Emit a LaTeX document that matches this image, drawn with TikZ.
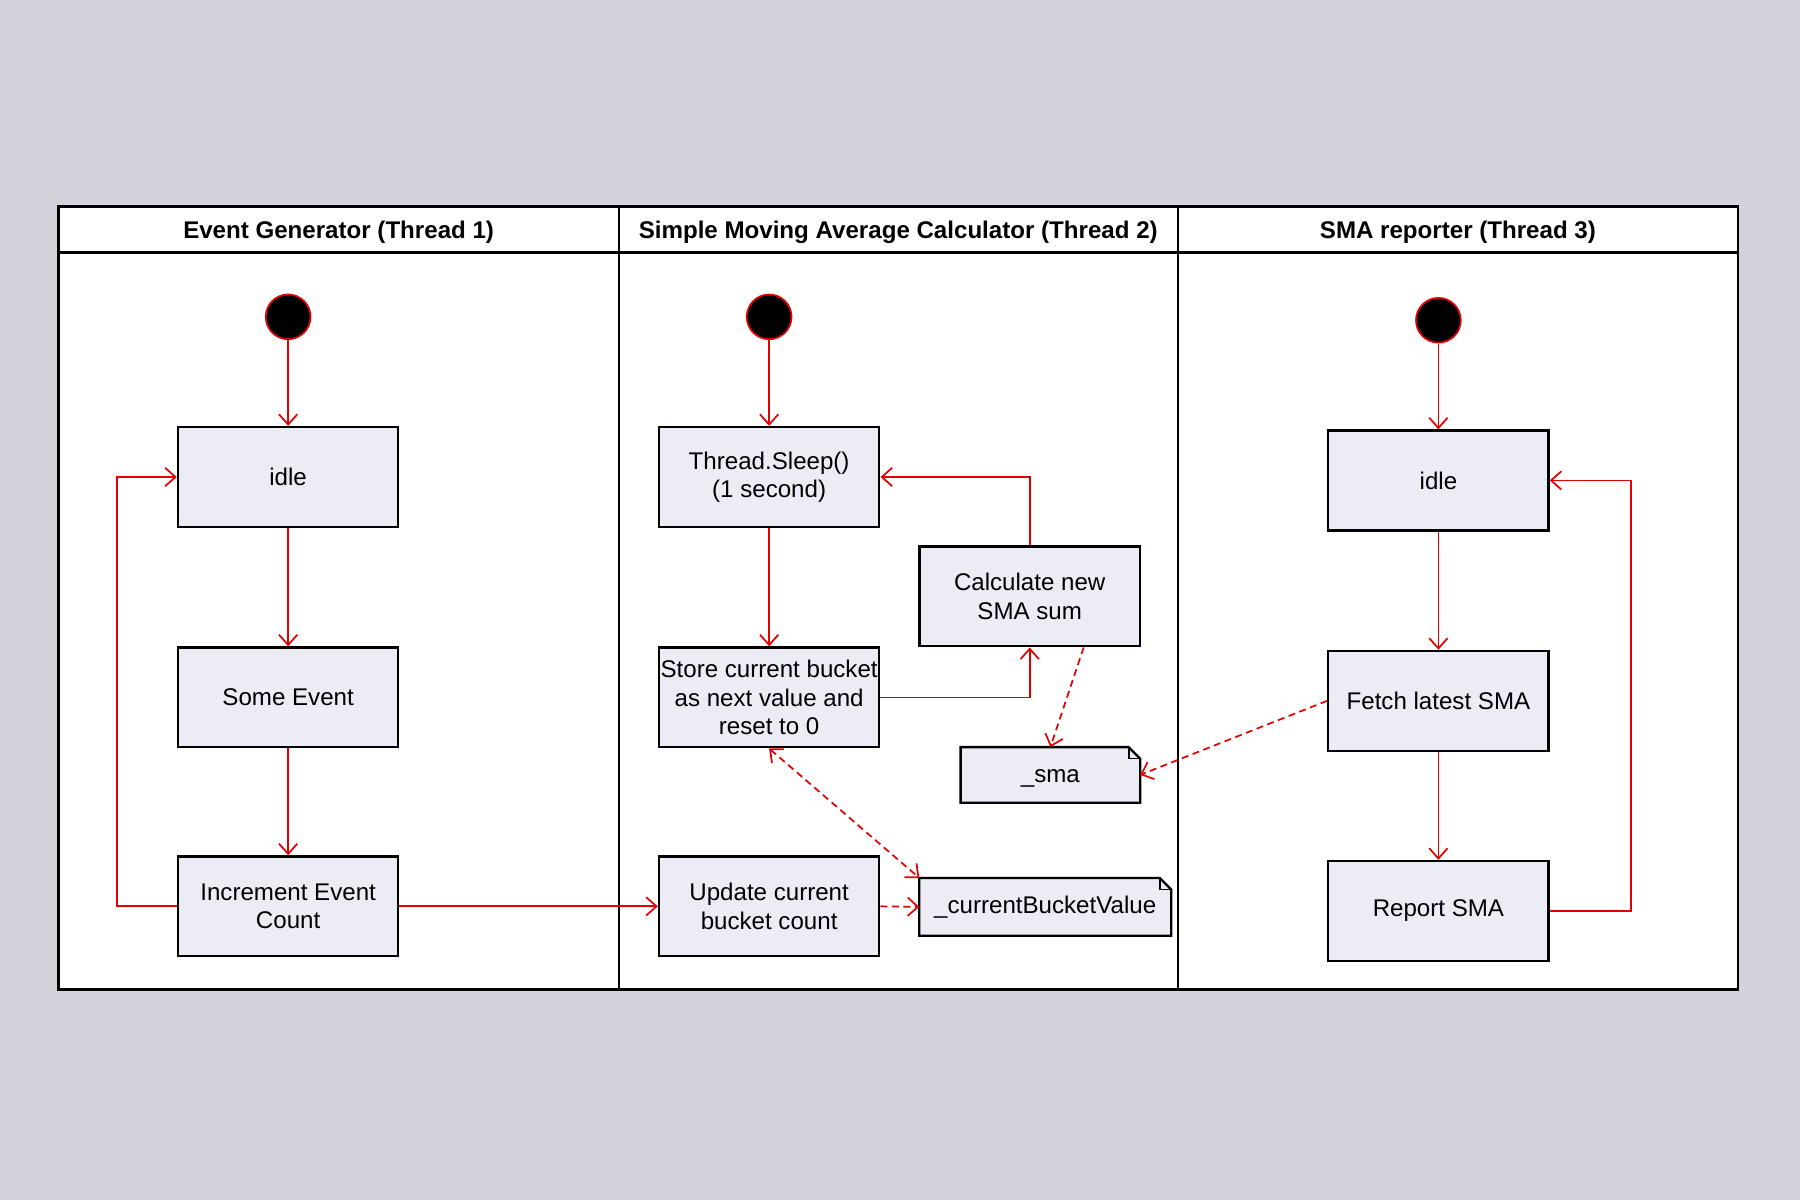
\documentclass[tikz,border=0pt]{standalone}
\usepackage{fontspec}
\setmainfont{Liberation Sans}
\usetikzlibrary{arrows.meta,backgrounds}
\definecolor{bgc}{RGB}{211,211,219}
\definecolor{boxc}{RGB}{235,236,244}
\definecolor{linec}{RGB}{228,0,0}
\tikzset{
  txt/.style={font=\fontsize{21bp}{24.5bp}\selectfont},
  statebox/.style={txt, draw=black, line width=2bp, fill=boxc, minimum width=192bp, minimum height=87bp, inner sep=0pt, align=center},
  startdot/.style={circle, fill=black, draw=linec, line width=1.5bp, minimum size=39bp, inner sep=0pt},
  flow/.style={draw=linec, line width=1.5bp, -{Straight Barb[length=9bp,width=16bp]}},
  dataflow/.style={flow, dash pattern=on 6bp off 4bp},
  notebox/.style={txt, inner sep=0pt, align=center},
  noteshape/.style={draw=black, line width=2bp, fill=boxc, line join=miter},
  lanehead/.style={font=\bfseries\fontsize{21bp}{24bp}\selectfont},
  frameline/.style={draw=black, line width=2bp},
}
\begin{document}
\begin{tikzpicture}[x=1bp,y=-1bp]
\useasboundingbox (0,0) rectangle (1568,1045);
\begin{scope}[on background layer]
  \fill[bgc] (0,0) rectangle (1568,1045);
  \draw[frameline, fill=white] (51,180) rectangle (1514,862);
  \draw[frameline] (51,220) -- (1514,220);
  \draw[frameline] (539,180) -- (539,862);
  \draw[frameline] (1026,180) -- (1026,862);
\end{scope}

% lane headers
\node[lanehead] (h1) at (295,202) {Event Generator (Thread 1)};
\node[lanehead] (h2) at (782.5,202) {Simple Moving Average Calculator (Thread 2)};
\node[lanehead] (h3) at (1270,202) {SMA reporter (Thread 3)};

% lane 1
\node[startdot] (s1) at (251,276) {};
\node[statebox] (idle1) at (251,415.5) {idle};
\node[statebox] (some) at (251,607.5) {Some Event};
\node[statebox] (inc) at (251,789.5) {Increment Event\\Count};

% lane 2
\node[startdot] (s2) at (670,276) {};
\node[statebox] (sleep) at (670,415.5) {Thread.Sleep()\\(1 second)};
\node[statebox] (store) at (670,607.5) {Store current bucket\\as next value and\\reset to 0};
\node[statebox] (update) at (670,789.5) {Update current\\bucket count};
\node[statebox] (calc) at (897,519.5) {Calculate new\\SMA sum};
\node[notebox, minimum width=156bp, minimum height=48bp, text height=17bp, text depth=3bp] (sma) at (915,675) {\_sma};
\node[notebox, minimum width=219bp, minimum height=50bp] (cbv) at (910.5,790) {\_currentBucketValue};

% lane 3
\node[startdot] (s3) at (1253,279) {};
\node[statebox] (idle3) at (1253,418.5) {idle};
\node[statebox] (fetch) at (1253,610.5) {Fetch latest SMA};
\node[statebox] (report) at (1253,793.5) {Report SMA};

% note shapes
\begin{scope}[on background layer]
  \foreach \n in {sma,cbv}{
    \draw[noteshape] (\n.north west) -- ([xshift=-10bp]\n.north east) -- ([yshift=-10bp]\n.north east) -- (\n.south east) -- (\n.south west) -- cycle;
    \draw[draw=black, line width=1.5bp] ([xshift=-10bp]\n.north east) -- ([xshift=-10bp,yshift=-10bp]\n.north east) -- ([yshift=-10bp]\n.north east);
  }
\end{scope}

% connectors lane 1
\draw[flow] (s1) -- (idle1);
\draw[flow] (idle1) -- (some);
\draw[flow] (some) -- (inc);
\draw[flow] (inc.west) -- ++(-52,0) |- (idle1.west);
\draw[flow] (inc.east) -- (update.west);

% connectors lane 2
\draw[flow] (s2) -- (sleep);
\draw[flow] (sleep) -- (store);
\draw[flow] (store.east) -| (calc.south);
\draw[flow] (calc.north) |- (sleep.east);
\draw[dataflow] ([xshift=47bp]calc.south) -- (sma.north);
\draw[dataflow] (update.east) -- (cbv.west);
\draw[dataflow, {Straight Barb[length=9bp,width=16bp]}-{Straight Barb[length=9bp,width=16bp]}] (store.south) -- (cbv.north west);

% connectors lane 3
\draw[flow] (s3) -- (idle3);
\draw[flow] (idle3) -- (fetch);
\draw[flow] (fetch) -- (report);
\draw[flow] (report.east) -- ++(71,0) |- (idle3.east);
\draw[dataflow] (fetch.west) -- (sma.east);
\end{tikzpicture}
\end{document}
